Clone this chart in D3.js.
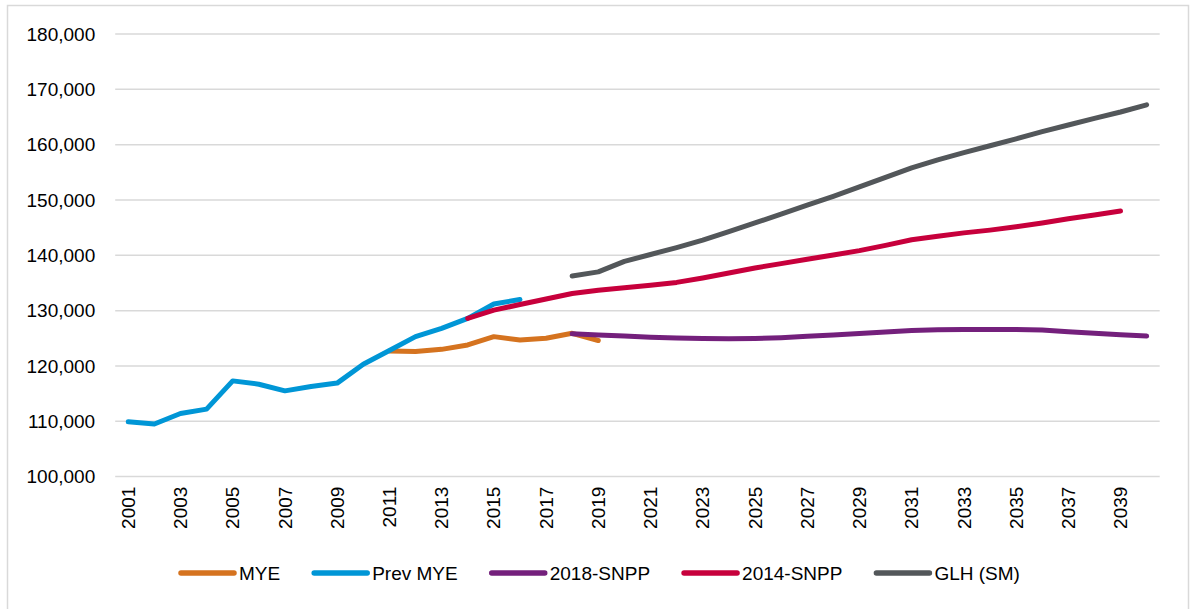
<!DOCTYPE html>
<html>
<head>
<meta charset="utf-8">
<script src="https://cdn.jsdelivr.net/npm/d3@7"></script>
<style>
  html, body { margin: 0; padding: 0; background: #fff; }
  svg { display: block; }
  text { font-family: "Liberation Sans", Arial, sans-serif; fill: #000; }
</style>
</head>
<body>
<svg id="chart" width="1194" height="609"></svg>
<script>
// Population series, one value per year
const years = d3.range(2001, 2041);
const yTicks = [100000, 110000, 120000, 130000, 140000, 150000, 160000, 170000, 180000];

const myeStart = 2011;
const myeValues = [122700, 122600, 123000, 123800, 125300, 124700, 125000, 125900, 124600];

const prevMyeStart = 2001;
const prevMyeValues = [109900, 109500, 111400, 112200, 117300, 116700, 115500, 116300, 116900, 120300,
  122800, 125300, 126800, 128600, 131200, 132000];

const snpp2018Start = 2018;
const snpp2018Values = [125800, 125600, 125400, 125200, 125050, 124950, 124900, 124950, 125100, 125350,
  125600, 125850, 126150, 126400, 126550, 126600, 126600, 126580, 126480, 126200, 125900, 125650, 125400];

const snpp2014Start = 2014;
const snpp2014Values = [128600, 130100, 131100, 132100, 133100, 133700, 134150, 134600, 135100, 135900,
  136800, 137700, 138500, 139300, 140050, 140850, 141800, 142800, 143450, 144050, 144550, 145150,
  145850, 146600, 147300, 148000];

const glhStart = 2018;
const glhValues = [136250, 137000, 138900, 140150, 141400, 142750, 144300, 145850, 147450, 149050,
  150650, 152350, 154100, 155800, 157250, 158550, 159800, 161050, 162350, 163550, 164750, 165900, 167200];

const seriesNames = ["MYE", "Prev MYE", "2018-SNPP", "2014-SNPP", "GLH (SM)"];
const seriesColors = ["#D5731F", "#0096D6", "#74207C", "#C7003C", "#53575A"];

const toPoints = (start, vals) => vals.map((v, i) => ({ year: start + i, value: v }));
const series = [
  toPoints(myeStart, myeValues),
  toPoints(prevMyeStart, prevMyeValues),
  toPoints(snpp2018Start, snpp2018Values),
  toPoints(snpp2014Start, snpp2014Values),
  toPoints(glhStart, glhValues)
];

const svg = d3.select("#chart");

// outer chart frame
svg.append("rect")
  .attr("x", 7.5).attr("y", 5.5)
  .attr("width", 1181).attr("height", 612)
  .attr("fill", "none").attr("stroke", "#d9d9d9").attr("stroke-width", 1.5);

const plot = { left: 115.2, right: 1159.7, top: 34, bottom: 476.6 };

const x = d3.scaleBand().domain(years).range([plot.left, plot.right]);
const xc = yr => x(yr) + x.bandwidth() / 2;
const y = d3.scaleLinear().domain([100000, 180000]).range([plot.bottom, plot.top]);

// horizontal gridlines
svg.append("g")
  .selectAll("line")
  .data(yTicks)
  .join("line")
  .attr("x1", plot.left).attr("x2", plot.right)
  .attr("y1", d => y(d)).attr("y2", d => y(d))
  .attr("stroke", "#d9d9d9").attr("stroke-width", 1.5);

// y-axis labels
const yAxis = d3.axisLeft(y).tickValues(yTicks).tickFormat(d3.format(",")).tickSize(0).tickPadding(20);
const gy = svg.append("g").attr("transform", `translate(${plot.left},0)`).call(yAxis);
gy.select(".domain").remove();
gy.selectAll("text")
  .style("font-family", '"Liberation Sans", Arial, sans-serif')
  .style("font-size", "19px").attr("fill", "#000");

// x-axis labels, every other year, rotated
const xAxis = d3.axisBottom(x).tickValues(years.filter(yr => (yr - 2001) % 2 === 0)).tickSize(0);
const gx = svg.append("g").attr("transform", `translate(0,${plot.bottom})`).call(xAxis);
gx.select(".domain").remove();
gx.selectAll("text")
  .style("font-family", '"Liberation Sans", Arial, sans-serif')
  .style("font-size", "19px").attr("fill", "#000")
  .attr("text-anchor", "end")
  .attr("transform", "rotate(-90)")
  .attr("x", -10).attr("y", 0).attr("dy", "0.35em");

// series lines
const line = d3.line().x(d => xc(d.year)).y(d => y(d.value));
const drawOrder = [0, 1, 3, 2, 4];
svg.append("g")
  .selectAll("path")
  .data(drawOrder)
  .join("path")
  .attr("d", i => line(series[i]))
  .attr("fill", "none")
  .attr("stroke", i => seriesColors[i])
  .attr("stroke-width", 5)
  .attr("stroke-linejoin", "round")
  .attr("stroke-linecap", "round");

// legend
const legend = svg.append("g").attr("transform", "translate(0,573)");
let cursor = 181;
seriesNames.forEach((name, i) => {
  const g = legend.append("g").attr("transform", `translate(${cursor},0)`);
  g.append("line")
    .attr("x1", 0).attr("x2", 53).attr("y1", 0).attr("y2", 0)
    .attr("stroke", seriesColors[i]).attr("stroke-width", 5.5).attr("stroke-linecap", "round");
  const t = g.append("text")
    .attr("x", 58).attr("dy", "0.35em")
    .style("font-size", "19px")
    .text(name);
  cursor += 58 + t.node().getComputedTextLength() + 34;
});
</script>
</body>
</html>
